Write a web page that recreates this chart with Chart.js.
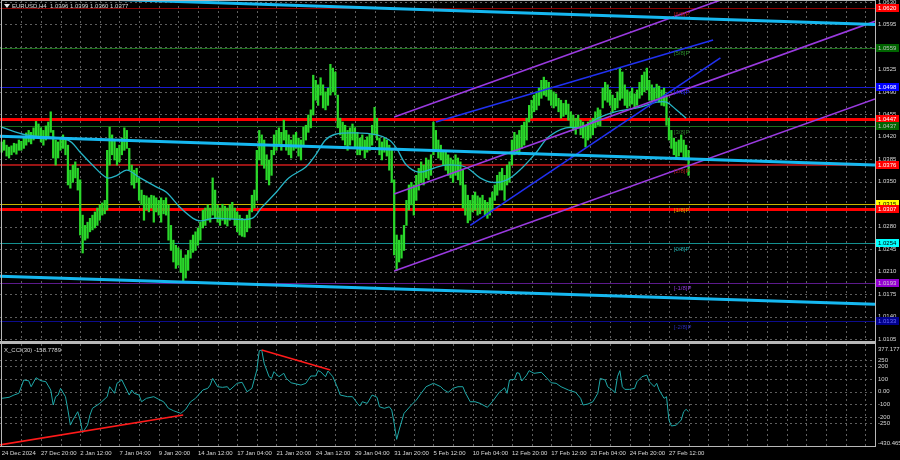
<!DOCTYPE html>
<html><head><meta charset="utf-8">
<script src="https://cdn.jsdelivr.net/npm/chart.js@4.4.1/dist/chart.umd.min.js"></script>
<style>
html,body{margin:0;padding:0;background:#000;width:900px;height:460px;overflow:hidden;}
#main{position:absolute;left:0;top:0;width:900px;height:342px;}
#cci{position:absolute;left:0;top:342px;width:900px;height:118px;}
canvas{display:block;}
</style></head><body>
<div id="main"><canvas id="c1" width="900" height="342"></canvas></div>
<div id="cci"><canvas id="c2" width="900" height="118"></canvas></div>
<script>
// ---------- DATA ----------
const symbolName = 'EURUSD,H4';
const lastOHLC = ['1.0396','1.0399','1.0360','1.0377'];
const cciName = 'X_CCI(30)';
const cciLast = '-158.7789';

// H4 bar highs / lows (bar index 0 = 24 Dec 2024)
const highs = [
1.0412,1.0415,1.0407,1.0404,1.0406,1.0410,1.0409,1.0415,1.0413,1.0421,
1.0426,1.0430,1.0427,1.0434,1.0444,1.0440,1.0434,1.0430,1.0437,1.0443,
1.0459,1.0430,1.0415,1.0412,1.0418,1.0423,1.0418,1.0407,1.0368,1.0376,
1.0381,1.0371,1.0353,1.0298,1.0282,1.0287,1.0293,1.0298,1.0303,1.0309,
1.0314,1.0317,1.0321,1.0399,1.0435,1.0423,1.0415,1.0402,1.0407,1.0418,
1.0434,1.0430,1.0402,1.0376,1.0368,1.0371,1.0356,1.0337,1.0329,1.0328,
1.0325,1.0329,1.0328,1.0325,1.0321,1.0325,1.0321,1.0325,1.0314,1.0282,
1.0259,1.0251,1.0247,1.0243,1.0231,1.0236,1.0243,1.0259,1.0267,1.0272,
1.0278,1.0287,1.0306,1.0309,1.0314,1.0309,1.0356,1.0337,1.0314,1.0309,
1.0315,1.0312,1.0309,1.0314,1.0318,1.0309,1.0303,1.0298,1.0293,1.0290,
1.0298,1.0306,1.0329,1.0337,1.0399,1.0430,1.0423,1.0415,1.0392,1.0384,
1.0399,1.0423,1.0430,1.0434,1.0427,1.0446,1.0430,1.0423,1.0415,1.0423,
1.0427,1.0418,1.0415,1.0435,1.0438,1.0454,1.0462,1.0516,1.0508,1.0501,
1.0512,1.0501,1.0490,1.0496,1.0533,1.0527,1.0521,1.0485,1.0449,1.0443,
1.0438,1.0430,1.0434,1.0440,1.0434,1.0427,1.0418,1.0423,1.0415,1.0420,
1.0424,1.0438,1.0466,1.0449,1.0418,1.0412,1.0418,1.0415,1.0407,1.0399,
1.0353,1.0267,1.0259,1.0267,1.0282,1.0321,1.0345,1.0349,1.0345,1.0360,
1.0371,1.0381,1.0376,1.0387,1.0384,1.0392,1.0443,1.0430,1.0415,1.0407,
1.0399,1.0396,1.0392,1.0387,1.0384,1.0392,1.0387,1.0381,1.0368,1.0345,
1.0329,1.0321,1.0329,1.0334,1.0328,1.0325,1.0329,1.0321,1.0318,1.0325,
1.0334,1.0345,1.0360,1.0365,1.0371,1.0360,1.0376,1.0381,1.0415,1.0427,
1.0423,1.0430,1.0438,1.0443,1.0449,1.0469,1.0477,1.0485,1.0490,1.0496,
1.0508,1.0513,1.0508,1.0505,1.0493,1.0490,1.0487,1.0480,1.0477,1.0472,
1.0477,1.0471,1.0459,1.0454,1.0449,1.0454,1.0446,1.0443,1.0438,1.0443,
1.0446,1.0449,1.0459,1.0465,1.0462,1.0496,1.0505,1.0501,1.0493,1.0485,
1.0480,1.0490,1.0527,1.0521,1.0501,1.0493,1.0490,1.0496,1.0487,1.0493,
1.0505,1.0516,1.0521,1.0527,1.0508,1.0501,1.0496,1.0502,1.0499,1.0493,
1.0496,1.0485,1.0449,1.0430,1.0418,1.0412,1.0415,1.0423,1.0415,1.0407,1.0399];
const lows = [
1.0396,1.0399,1.0390,1.0387,1.0392,1.0396,1.0393,1.0399,1.0399,1.0402,
1.0407,1.0412,1.0409,1.0415,1.0421,1.0418,1.0412,1.0407,1.0415,1.0420,
1.0427,1.0387,1.0376,1.0387,1.0399,1.0402,1.0392,1.0345,1.0340,1.0349,
1.0356,1.0337,1.0267,1.0239,1.0259,1.0262,1.0272,1.0275,1.0278,1.0282,
1.0290,1.0298,1.0300,1.0306,1.0376,1.0392,1.0384,1.0376,1.0381,1.0392,
1.0399,1.0402,1.0368,1.0345,1.0340,1.0349,1.0321,1.0314,1.0290,1.0306,
1.0303,1.0309,1.0287,1.0303,1.0298,1.0287,1.0300,1.0298,1.0259,1.0243,
1.0225,1.0215,1.0220,1.0209,1.0194,1.0200,1.0212,1.0231,1.0240,1.0243,
1.0251,1.0259,1.0278,1.0282,1.0290,1.0287,1.0298,1.0293,1.0287,1.0282,
1.0290,1.0284,1.0281,1.0290,1.0293,1.0282,1.0272,1.0267,1.0265,1.0264,
1.0272,1.0278,1.0303,1.0309,1.0321,1.0384,1.0376,1.0371,1.0353,1.0345,
1.0360,1.0392,1.0399,1.0407,1.0399,1.0415,1.0399,1.0392,1.0387,1.0399,
1.0402,1.0390,1.0384,1.0407,1.0415,1.0427,1.0434,1.0454,1.0477,1.0469,
1.0485,1.0465,1.0462,1.0469,1.0485,1.0490,1.0485,1.0434,1.0423,1.0415,
1.0407,1.0399,1.0407,1.0415,1.0402,1.0392,1.0392,1.0399,1.0387,1.0396,
1.0399,1.0407,1.0423,1.0415,1.0392,1.0384,1.0396,1.0390,1.0368,1.0349,
1.0236,1.0212,1.0225,1.0231,1.0243,1.0282,1.0306,1.0314,1.0298,1.0321,
1.0337,1.0349,1.0345,1.0356,1.0353,1.0360,1.0392,1.0399,1.0387,1.0384,
1.0376,1.0368,1.0360,1.0356,1.0349,1.0360,1.0353,1.0345,1.0309,1.0298,
1.0286,1.0290,1.0303,1.0306,1.0298,1.0300,1.0306,1.0298,1.0293,1.0298,
1.0306,1.0321,1.0329,1.0337,1.0337,1.0321,1.0345,1.0349,1.0376,1.0392,
1.0396,1.0392,1.0402,1.0407,1.0415,1.0443,1.0449,1.0459,1.0462,1.0469,
1.0480,1.0485,1.0483,1.0477,1.0469,1.0465,1.0468,1.0459,1.0449,1.0452,
1.0455,1.0446,1.0434,1.0430,1.0424,1.0434,1.0423,1.0418,1.0404,1.0415,
1.0418,1.0423,1.0434,1.0438,1.0437,1.0465,1.0477,1.0474,1.0469,1.0459,
1.0462,1.0465,1.0477,1.0480,1.0469,1.0465,1.0468,1.0471,1.0465,1.0469,
1.0480,1.0485,1.0490,1.0493,1.0477,1.0474,1.0477,1.0480,1.0474,1.0469,
1.0468,1.0438,1.0415,1.0402,1.0392,1.0387,1.0390,1.0396,1.0387,1.0384,1.0360];

// moving average (read at selected bars)
const maBars = [0,10,27,32,37,43,47,51,56,63,67,73,78,81,86,94,102,106,112,117,124,128,132,136,144,153,158,161,165,170,176,181,189,195,200,206,212,218,223,230,237,243,250,260,267,271,275,279];
const maVals = [1.0435,1.0423,1.0415,1.0396,1.0376,1.0356,1.0360,1.0368,1.0357,1.0342,1.0334,1.0309,1.0293,1.0289,1.0293,1.0292,1.0293,1.0310,1.0334,1.0356,1.0373,1.0392,1.0415,1.0424,1.0426,1.0423,1.0415,1.0402,1.0376,1.0365,1.0371,1.0376,1.0373,1.0356,1.0349,1.0353,1.0371,1.0396,1.0420,1.0434,1.0435,1.0449,1.0459,1.0466,1.0474,1.0474,1.0462,1.0449];

// CCI(30)
const cciBars = [
0,3,5,7,9,11,12,14,16,18,
20,21,22,23,24,26,27,28,29,31,
32,33,35,36,37,40,43,44,46,47,
49,50,52,53,54,56,57,59,62,64,
66,68,70,73,75,77,79,82,84,85,
86,88,90,92,93,96,98,100,102,104,
105,106,107,109,110,111,113,115,116,118,
122,124,126,128,129,130,132,133,135,137,
138,141,143,145,146,147,149,151,153,154,
156,158,159,160,161,162,164,167,169,171,
173,176,179,180,182,184,186,188,189,191,
193,195,197,198,200,203,204,205,206,207,
209,210,211,212,214,215,217,220,222,224,
226,228,231,234,236,237,239,241,243,244,
246,247,249,250,251,252,253,254,256,258,
259,261,263,264,266,267,268,270,271,272,
273,275,277,278,279,280];
const cciVals = [
-53,-45,-27,-13,92,86,39,110,86,79,
13,-106,-40,-27,26,-40,-146,-265,-225,-159,
-225,-325,-265,-185,-132,-93,-40,39,-13,66,
92,52,-27,13,-13,-27,-80,-53,-40,-61,
-80,-132,-151,-172,-140,-80,-53,13,26,52,
105,39,34,39,13,66,74,-1,26,171,
324,329,224,118,105,158,118,145,105,70,
52,66,124,124,166,158,118,163,118,26,
-27,-40,-40,-93,-114,-80,-93,-27,-45,-120,
-132,-120,-146,-251,-378,-304,-172,-106,-67,-13,
39,66,39,18,-6,26,39,39,-9,-80,
-80,-93,-114,-124,-80,-1,13,31,-13,92,
97,150,145,84,131,166,145,153,113,70,
66,39,13,-6,-53,-106,-98,-80,-13,105,
92,39,13,-9,118,166,39,18,18,26,
79,118,131,79,39,66,13,-53,-40,-225,
-272,-265,-225,-159,-140,-159];

// axis ticks / labels
const priceTicks = [1.0105,1.0140,1.0175,1.0210,1.0245,1.0280,1.0315,1.0350,1.0385,1.0420,1.0455,1.0490,1.0525,1.0560,1.0595,1.0630];
const timeLabels = ['24 Dec 2024','27 Dec 20:00','2 Jan 12:00','7 Jan 04:00','9 Jan 20:00','14 Jan 12:00','17 Jan 04:00','21 Jan 20:00','24 Jan 12:00','29 Jan 04:00','31 Jan 20:00','5 Feb 12:00','10 Feb 04:00','12 Feb 20:00','17 Feb 12:00','20 Feb 04:00','24 Feb 20:00','27 Feb 12:00'];
const barsPerLabel = 16;
const barsPerGrid = 8;
const cciTickVals = [377.1776,250,200,100,0,-100,-200,-250,-430.465];
const cciTickText = ['377.1776','250','200','100','0.00','-100','-200','-250','-430.465'];
const cciGridVals = [250,200,100,0,-100,-200,-250];

// Murray levels
const murrayPrices = [1.0620,1.0559,1.0498,1.0437,1.0376,1.0315,1.0254,1.0193,1.0133];
const murrayNames = ['[6/8]P','[5/8]P','[4/8]P','[3/8]P','[2/8]P','[1/8]P','[0/8]P','[-1/8]P','[-2/8]P'];
const murrayLabelBar = 274;
// support / resistance
const srPrices = [1.0447,1.0307];
// axis price boxes
const boxPrices = [1.0620,1.0559,1.0498,1.0447,1.0437,1.0376,1.0315,1.0307,1.0254,1.0193,1.0133];

// trend lines (bar index, price)
const cyanUpperBars=[-1,356], cyanUpperPrices=[1.0640,1.0595];
const cyanMidBars=[-1,356],   cyanMidPrices=[1.0421,1.0376];
const cyanLowerBars=[-1,356], cyanLowerPrices=[1.0203,1.0159];
const violetLowBars=[160,356], violetLowPrices=[1.0211,1.0479];
const violetMidBars=[160,356], violetMidPrices=[1.0331,1.0600];
const violetHighBars=[160,293], violetHighPrices=[1.0451,1.0633];
const blueHighBars=[177,290], blueHighPrices=[1.0443,1.0571];
const blueLowBars=[191,293],  blueLowPrices=[1.0282,1.0543];
const cciRedABars=[-1,74],  cciRedAVals=[-423,-185];
const cciRedBBars=[106,134], cciRedBVals=[329,171];

// ---------- STYLE ----------
const FONT = '"Liberation Sans", Arial, sans-serif';
const murrayColors = ['#8b0000','#1c6e1c','#1818d0','#1c6e1c','#9a1414','#c8b400','#139090','#5c1a8c','#0c0c8c'];
const murrayText   = ['#b01818','#2a8a2a','#2a2af0','#2a7a2a','#a81c1c','#c8a800','#1aa0a0','#8a3ad0','#2a2ab0'];
const murrayWidths = [1,1,1,1,2,1,1,1,1];
const boxFill = ['#ff0000','#006400','#0000ff','#ff0000','#006400','#ff0000','#ffff00','#ff0000','#00ffff','#9400d3','#00008b'];
const boxTextCol = ['#ffffff','#c0c0c0','#ffffff','#ffffff','#c0c0c0','#ffffff','#000000','#ffffff','#000000','#d0d0d0','#6a6aff'];
const X_MIN = -0.69, X_MAX = 356.0;

Chart.defaults.font.family = FONT;
Chart.defaults.font.size = 6;

const pts = (xs, ys) => xs.map((x,i)=>({x:x, y:ys[i]}));
const candles = highs.map((h,i)=>({x:i, y:[lows[i], h]}));
const lineDs = (data, color, width) => ({type:'line', data, borderColor:color, borderWidth:width, pointRadius:0, fill:false, tension:0, order:1});

function gridDraw(ctx, a, xs, ys, yVals){
  ctx.save();
  ctx.strokeStyle = '#5e5e5e'; ctx.lineWidth = 1; ctx.setLineDash([2,3]);
  ctx.beginPath();
  for (let b = barsPerGrid; b <= X_MAX; b += barsPerGrid){
    const px = Math.round(xs.getPixelForValue(b)) + 0.5;
    ctx.moveTo(px, a.top); ctx.lineTo(px, a.bottom);
  }
  for (const v of yVals){
    const py = Math.round(ys.getPixelForValue(v)) + 0.5;
    ctx.moveTo(a.left, py); ctx.lineTo(a.right, py);
  }
  ctx.stroke();
  ctx.restore();
}

const mainDeco = {
  id:'mainDeco',
  beforeDraw(chart){
    const c = chart.ctx; c.save(); c.fillStyle='#000'; c.fillRect(0,0,chart.width,chart.height); c.restore();
  },
  beforeDatasetsDraw(chart){
    const {ctx, chartArea:a, scales:{x, y}} = chart;
    gridDraw(ctx, a, x, y, priceTicks);
    ctx.save();
    ctx.beginPath(); ctx.rect(a.left, a.top, a.right-a.left, a.bottom-a.top); ctx.clip();
    const hl = (p, col, w) => {
      const py = Math.round(y.getPixelForValue(p)) + (w % 2 ? 0.5 : 0);
      ctx.strokeStyle = col; ctx.lineWidth = w; ctx.beginPath(); ctx.moveTo(a.left, py); ctx.lineTo(a.right, py); ctx.stroke();
    };
    murrayPrices.forEach((p,i)=>hl(p, murrayColors[i], murrayWidths[i]));
    srPrices.forEach(p=>hl(p, '#ff0000', 3));
    ctx.restore();
  },
  afterDraw(chart){
    const {ctx, chartArea:a, scales:{x, y}} = chart;
    ctx.save();
    // Murray labels
    ctx.font = '6px ' + FONT; ctx.textBaseline = 'middle'; ctx.textAlign = 'left';
    const lx = x.getPixelForValue(murrayLabelBar);
    murrayPrices.forEach((p,i)=>{ ctx.fillStyle = murrayText[i]; ctx.fillText(murrayNames[i], lx, y.getPixelForValue(p) + 6); });
    // frame
    ctx.strokeStyle = '#b8b8b8'; ctx.lineWidth = 1;
    ctx.beginPath();
    ctx.moveTo(1.5, 0.5); ctx.lineTo(a.right + 0.5, 0.5);
    ctx.moveTo(1.5, 0); ctx.lineTo(1.5, a.bottom + 1);
    ctx.moveTo(a.right + 0.5, 0); ctx.lineTo(a.right + 0.5, a.bottom + 1);
    ctx.moveTo(0, a.bottom + 0.5); ctx.lineTo(a.right + 1, a.bottom + 0.5);
    ctx.stroke();
    // axis boxes
    boxPrices.forEach((p,i)=>{
      const py = Math.round(y.getPixelForValue(p));
      ctx.fillStyle = boxFill[i]; ctx.fillRect(a.right + 1, py - 4, 23, 8);
      ctx.fillStyle = boxTextCol[i]; ctx.fillText(p.toFixed(4), a.right + 3, py + 0.5);
    });
    // title
    ctx.fillStyle = '#e6e6e6';
    ctx.beginPath(); ctx.moveTo(4,4); ctx.lineTo(10,4); ctx.lineTo(7,8); ctx.closePath(); ctx.fill();
    ctx.fillStyle = '#d8d8d8';
    ctx.fillText(symbolName + '  ' + lastOHLC.join(' '), 12, 6.5);
    ctx.restore();
  }
};

new Chart(document.getElementById('c1'), {
  type:'bar',
  data:{datasets:[
    {type:'bar', data:candles, backgroundColor:'#2ad82a', borderWidth:0, barThickness:1.6, grouped:false, order:10},
    {type:'line', data:pts(maBars, maVals), borderColor:'#26b4c6', borderWidth:1.3, pointRadius:0, fill:false, tension:0.35, order:2},
    lineDs(pts(cyanUpperBars, cyanUpperPrices), '#16b8f0', 3),
    lineDs(pts(cyanMidBars, cyanMidPrices), '#16b8f0', 3),
    lineDs(pts(cyanLowerBars, cyanLowerPrices), '#16b8f0', 3),
    lineDs(pts(violetLowBars, violetLowPrices), '#9a3ae0', 1.6),
    lineDs(pts(violetMidBars, violetMidPrices), '#9a3ae0', 1.6),
    lineDs(pts(violetHighBars, violetHighPrices), '#9a3ae0', 1.6),
    lineDs(pts(blueHighBars, blueHighPrices), '#2030f0', 1.6),
    lineDs(pts(blueLowBars, blueLowPrices), '#2030f0', 1.6)
  ]},
  options:{
    responsive:false, animation:false, devicePixelRatio:1,
    layout:{padding:{left:0, right:0, top:1, bottom:1}},
    plugins:{legend:{display:false}, tooltip:{enabled:false}},
    scales:{
      x:{type:'linear', min:X_MIN, max:X_MAX, offset:false, display:false, grid:{display:false}},
      y:{type:'linear', position:'right', min:1.01019, max:1.06316,
         afterBuildTicks:s=>{ s.ticks = priceTicks.map(v=>({value:v})); },
         afterFit:s=>{ s.width = 25; s.paddingTop = 0; s.paddingBottom = 0; },
         ticks:{color:'#d8d8d8', font:{size:6, family:FONT}, padding:3, callback:v=>Number(v).toFixed(4)},
         grid:{display:false, drawTicks:false}, border:{display:false}}
    }
  },
  plugins:[mainDeco]
});

const cciDeco = {
  id:'cciDeco',
  beforeDraw(chart){
    const c = chart.ctx; c.save(); c.fillStyle='#000'; c.fillRect(0,0,chart.width,chart.height); c.restore();
  },
  beforeDatasetsDraw(chart){
    const {ctx, chartArea:a, scales:{x, y}} = chart;
    gridDraw(ctx, a, x, y, cciGridVals);
  },
  afterDraw(chart){
    const {ctx, chartArea:a, scales:{x, y}} = chart;
    ctx.save();
    ctx.strokeStyle = '#b8b8b8'; ctx.lineWidth = 1;
    ctx.beginPath();
    ctx.moveTo(0, 0.5); ctx.lineTo(a.right + 1, 0.5);
    ctx.moveTo(0, a.top - 0.5); ctx.lineTo(a.right + 1, a.top - 0.5);
    ctx.moveTo(1.5, a.top); ctx.lineTo(1.5, a.bottom + 1);
    ctx.moveTo(a.right + 0.5, 0); ctx.lineTo(a.right + 0.5, a.bottom + 1);
    ctx.moveTo(0, a.bottom + 0.5); ctx.lineTo(a.right + 1, a.bottom + 0.5);
    ctx.stroke();
    ctx.font = '6px ' + FONT; ctx.textBaseline = 'middle'; ctx.textAlign = 'left'; ctx.fillStyle = '#d8d8d8';
    cciTickVals.forEach((v,i)=>{
      let py = y.getPixelForValue(v);
      if (i === 0) py += 5; else if (i === cciTickVals.length - 1) py -= 3;
      ctx.fillText(cciTickText[i], a.right + 3, py);
    });
    ctx.fillText(cciName + ' ' + cciLast, 4, a.top + 6);
    ctx.restore();
  }
};

new Chart(document.getElementById('c2'), {
  type:'line',
  data:{datasets:[
    {data:pts(cciBars, cciVals), borderColor:'#1fa8a8', borderWidth:1, pointRadius:0, fill:false, tension:0, order:2},
    lineDs(pts(cciRedABars, cciRedAVals), '#ff1a1a', 1.6),
    lineDs(pts(cciRedBBars, cciRedBVals), '#ff1a1a', 1.6)
  ]},
  options:{
    responsive:false, animation:false, devicePixelRatio:1,
    layout:{padding:{left:0, right:25, top:2, bottom:0}},
    plugins:{legend:{display:false}, tooltip:{enabled:false}},
    scales:{
      x:{type:'linear', min:X_MIN, max:X_MAX, offset:false,
         afterBuildTicks:s=>{ const t=[]; for(let b=0;b<=352;b+=barsPerGrid) t.push({value:b}); s.ticks=t; },
         afterFit:s=>{ s.height = 14; s.paddingLeft = 0; s.paddingRight = 0; },
         ticks:{autoSkip:false, maxRotation:0, minRotation:0, align:'start', color:'#d8d8d8', font:{size:6, family:FONT}, padding:4,
                callback:v=> (v % barsPerLabel === 0 && timeLabels[v/barsPerLabel]) ? timeLabels[v/barsPerLabel] : ''},
         grid:{display:false, drawTicks:false}, border:{display:false}},
      y:{type:'linear', display:false, min:-430.465, max:377.1776}
    }
  },
  plugins:[cciDeco]
});
</script>
</body></html>
